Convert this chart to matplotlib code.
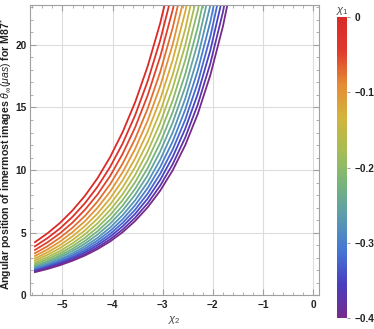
import numpy as np
import matplotlib
matplotlib.use("Agg")
import matplotlib.pyplot as plt
from matplotlib.colors import LinearSegmentedColormap, Normalize
from matplotlib.ticker import MultipleLocator
from matplotlib.cm import ScalarMappable

plt.rcParams['font.family'] = ['Liberation Sans', 'DejaVu Sans']
plt.rcParams['mathtext.fontset'] = 'custom'
plt.rcParams['mathtext.rm'] = 'Liberation Sans'
plt.rcParams['mathtext.it'] = 'Liberation Sans:italic'
plt.rcParams['mathtext.bf'] = 'Liberation Sans:bold'

# chi_2 sample points (x axis)
chi2 = [-5.55, -5.30, -5.05, -4.80, -4.55, -4.30, -4.05, -3.80, -3.55,
        -3.30, -3.05, -2.80, -2.55, -2.30, -2.05, -1.80, -1.55]

# chi_1 values of the curves
chi1 = [0.0, -0.025, -0.05, -0.075, -0.1, -0.125, -0.15, -0.175, -0.2,
        -0.225, -0.25, -0.275, -0.3, -0.325, -0.35, -0.375, -0.4]

# theta_inf (micro-arcsec)
theta = [
    [4.23, 4.94, 5.77, 6.77, 7.95, 9.35, 11.03, 13.03, 15.42, 18.29, 21.74, 25.90],
    [3.90, 4.56, 5.33, 6.26, 7.36, 8.67, 10.24, 12.12, 14.38, 17.10, 20.37, 24.32],
    [3.61, 4.22, 4.94, 5.80, 6.83, 8.05, 9.52, 11.29, 13.41, 15.97, 19.06, 22.81, 27.36],
    [3.35, 3.91, 4.59, 5.39, 6.34, 7.49, 8.86, 10.51, 12.50, 14.91, 17.83, 21.38, 25.70],
    [3.13, 3.65, 4.28, 5.03, 5.92, 6.99, 8.27, 9.82, 11.69, 13.95, 16.70, 20.05, 24.13],
    [2.93, 3.42, 4.00, 4.70, 5.53, 6.53, 7.73, 9.18, 10.93, 13.06, 15.64, 18.79, 22.65, 27.38],
    [2.76, 3.22, 3.76, 4.41, 5.18, 6.12, 7.24, 8.60, 10.24, 12.23, 14.66, 17.63, 21.26, 25.72],
    [2.60, 3.03, 3.53, 4.14, 4.87, 5.74, 6.79, 8.06, 9.60, 11.48, 13.76, 16.55, 19.98, 24.19],
    [2.47, 2.87, 3.34, 3.91, 4.59, 5.41, 6.40, 7.59, 9.03, 10.79, 12.94, 15.56, 18.79, 22.76, 27.67],
    [2.35, 2.72, 3.17, 3.70, 4.34, 5.11, 6.03, 7.15, 8.50, 10.15, 12.17, 14.64, 17.67, 21.42, 26.05],
    [2.25, 2.60, 3.02, 3.52, 4.12, 4.84, 5.71, 6.76, 8.03, 9.58, 11.48, 13.80, 16.65, 20.18, 24.55],
    [2.15, 2.48, 2.87, 3.34, 3.91, 4.58, 5.40, 6.39, 7.58, 9.04, 10.82, 13.01, 15.70, 19.03, 23.15, 28.29],
    [2.07, 2.38, 2.76, 3.20, 3.73, 4.37, 5.13, 6.06, 7.19, 8.56, 10.24, 12.29, 14.83, 17.96, 21.85, 26.69],
    [2.00, 2.30, 2.65, 3.07, 3.57, 4.17, 4.89, 5.77, 6.83, 8.12, 9.70, 11.64, 14.03, 16.99, 20.66, 25.24],
    [1.94, 2.22, 2.55, 2.95, 3.42, 3.99, 4.67, 5.50, 6.50, 7.72, 9.21, 11.05, 13.30, 16.09, 19.56, 23.88],
    [1.88, 2.15, 2.46, 2.83, 3.28, 3.82, 4.46, 5.24, 6.19, 7.34, 8.75, 10.47, 12.60, 15.24, 18.51, 22.60, 27.72],
    [1.84, 2.09, 2.39, 2.75, 3.17, 3.68, 4.29, 5.03, 5.93, 7.02, 8.35, 9.98, 11.99, 14.48, 17.58, 21.45, 26.29],
]

rainbow = LinearSegmentedColormap.from_list("rainbow_m", [
    "#772b8c", "#4a3dbf", "#4576d4", "#5a9bb0", "#76b47c",
    "#a6bd54", "#d3b43c", "#e48b35", "#df3a2c", "#d92a28"])
norm = Normalize(vmin=-0.4, vmax=0.0)

fig = plt.figure(figsize=(3.74, 3.29), dpi=100)
ax = fig.add_axes([0.080, 0.103, 0.773, 0.882])

for c, v in zip(chi1, theta):
    ax.plot(chi2[:len(v)], v, color=rainbow(norm(c)), lw=1.3)

ax.set_xlim(-5.65, 0.12)
ax.set_ylim(0, 23.2)
ax.xaxis.set_major_locator(MultipleLocator(1))
ax.xaxis.set_minor_locator(MultipleLocator(0.2))
ax.yaxis.set_major_locator(MultipleLocator(5))
ax.yaxis.set_minor_locator(MultipleLocator(1))
ax.grid(True, which='major', color='#dcdcdc', lw=0.8)
ax.set_axisbelow(True)
for s in ax.spines.values():
    s.set_color('#a0a0a0')
    s.set_linewidth(0.8)
ax.tick_params(which='both', direction='in', top=True, right=True,
               color='#a0a0a0', labelsize=7.3)
ax.tick_params(which='major', length=4)
ax.tick_params(which='minor', length=2)
ax.tick_params(axis='y', pad=2.5)
for lab in ax.get_xticklabels() + ax.get_yticklabels():
    lab.set_fontweight('bold')
    lab.set_color('#222222')

ax.set_xlabel(r'$\chi_2$', fontsize=8, color='#444444', labelpad=3)
ax.set_ylabel(r'Angular position of innermost images $\theta_{\infty}(\mu as)$ for M87$^{*}$',
              fontsize=7.6, fontweight='bold', color='#222222')
ax.yaxis.set_label_coords(-0.054, 0.485)

cax = fig.add_axes([0.901, 0.033, 0.027, 0.915])
cb = fig.colorbar(ScalarMappable(norm=norm, cmap=rainbow), cax=cax)
cb.outline.set_visible(False)
cb.set_ticks([0, -0.1, -0.2, -0.3, -0.4])
cb.set_ticklabels(['0', '\u22120.1', '\u22120.2', '\u22120.3', '\u22120.4'])
cax.tick_params(labelsize=7.3, length=2, color='#a0a0a0')
for lab in cax.get_yticklabels():
    lab.set_fontweight('bold')
    lab.set_color('#222222')
cax.set_title(r'$\chi_1$', fontsize=8, color='#444444', pad=2)

fig.savefig('out.png', dpi=100)
